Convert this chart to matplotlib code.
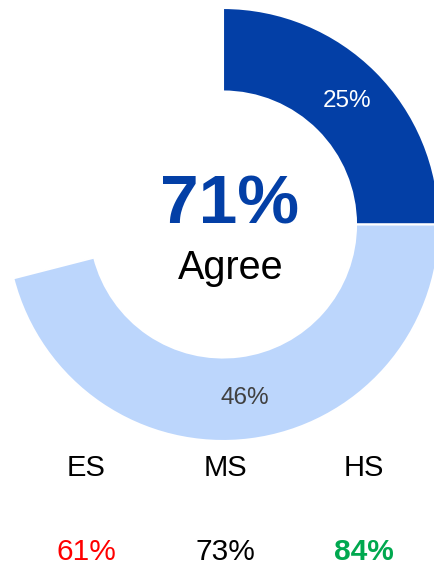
import matplotlib
matplotlib.use("Agg")
import matplotlib.pyplot as plt

plt.rcParams['font.family'] = ['Liberation Sans', 'DejaVu Sans']

# Donut data: share of responses, drawn clockwise from 12 o'clock
segment_labels = ["Strongly agree", "Agree", "Other"]
segment_values = [25, 46, 29]
segment_colors = ["#033FA6", "#BCD6FC", "none"]
segment_text_colors = ["white", "#404040"]

overall_value = "71%"
overall_label = "Agree"

# School-level breakdown
levels = ["ES", "MS", "HS"]
level_values = ["61%", "73%", "84%"]
level_colors = ["#FF0000", "#000000", "#00A84F"]
level_weights = ["normal", "normal", "bold"]

W, H = 434, 566
fig = plt.figure(figsize=(W / 100, H / 100), dpi=100)
ax = fig.add_axes([0, 0, 1, 1])

cx, cy = 223, H - 224.5
r_out, r_in = 216.5, 133

wedges, _ = ax.pie(
    segment_values,
    colors=segment_colors,
    startangle=90,
    counterclock=False,
    radius=r_out,
    center=(cx, cy),
    wedgeprops=dict(width=r_out - r_in, edgecolor="white", linewidth=1.5),
)
wedges[-1].set_edgecolor("none")
wedges[-1].set_facecolor("none")

ax.set_xlim(0, W)
ax.set_ylim(0, H)
ax.set_aspect("equal")
ax.axis("off")

# Value labels in the middle of each visible ring segment
import numpy as np
total = sum(segment_values)
start = 0.0
r_lab = 175
for val, tc in zip(segment_values[:2], segment_text_colors):
    mid = (start + val / 2) / total * 2 * np.pi
    x = cx + r_lab * np.sin(mid)
    y = cy + r_lab * np.cos(mid)
    ax.text(x, y, f"{val}%", color=tc, fontsize=17.5, ha="center", va="center")
    start += val

ax.text(230, H - 223, overall_value, color="#033FA6", fontsize=50,
        fontweight="bold", ha="center", va="baseline")
ax.text(230.5, H - 279, overall_label, color="black", fontsize=28.5,
        ha="center", va="baseline")

xs = [86, 225, 364]
for x, lvl, val, col, wt in zip(xs, levels, level_values, level_colors, level_weights):
    ax.text(x, H - 476.5, lvl, color="black", fontsize=21, ha="center", va="baseline")
    ax.text(x, H - 560, val, color=col, fontsize=21.5, fontweight=wt,
            ha="center", va="baseline")

fig.savefig("out.png", dpi=100)
